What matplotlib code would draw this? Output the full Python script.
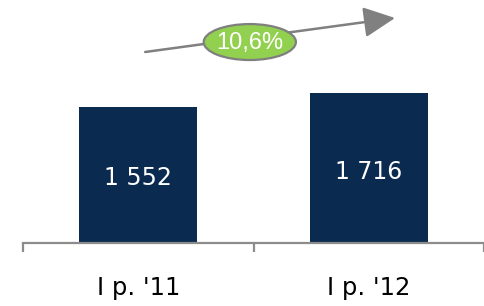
import matplotlib.pyplot as plt
from matplotlib.patches import Ellipse, FancyArrowPatch

categories = ["I p. '11", "I p. '12"]
values = [1552, 1716]
value_labels = ["1 552", "1 716"]

growth = (values[1] / values[0] - 1) * 100
growth_label = ("%.1f%%" % growth).replace(".", ",")

fig = plt.figure(figsize=(4.84, 3.06), dpi=100)
ax = fig.add_axes([23 / 484, 1 - 243 / 306, 461 / 484, 243 / 306])

x = list(range(len(categories)))
ax.bar(x, values, width=0.51, color="#0a2a50")
ax.set_xlim(-0.5, -0.5 + 461 / 239)
ax.set_ylim(0, 1552 * 243 / 136)

for xi, v, lab in zip(x, values, value_labels):
    ax.text(xi, v * 0.475, lab, ha="center", va="center",
            color="white", fontsize=17, family="DejaVu Sans")

for s in ["top", "right", "left"]:
    ax.spines[s].set_visible(False)
ax.spines["bottom"].set_color("#8c8c8c")
ax.spines["bottom"].set_linewidth(1.6)
ax.set_yticks([])
ax.set_xticks(x)
ax.set_xticklabels(categories, fontsize=17.5, family="DejaVu Sans")
ax.tick_params(axis="x", which="major", length=0, pad=24)
ax.set_xticks([-0.5, 0.5, 1.5], minor=True)
ax.tick_params(axis="x", which="minor", length=6.5, width=1.6, color="#8c8c8c")

# growth arrow
arrow = FancyArrowPatch((0.265, 0.786), (0.807, 0.926), transform=ax.transAxes,
                        arrowstyle="-|>,head_length=0.97,head_width=0.47",
                        mutation_scale=20, color="#808080", lw=1.8,
                        shrinkA=0, shrinkB=0, clip_on=False)
ax.add_patch(arrow)
ell = Ellipse((0.492, 0.827), 0.2, 0.148, transform=ax.transAxes,
              facecolor="#92d050", edgecolor="#7f7f7f", lw=1.6, clip_on=False, zorder=5)
ax.add_patch(ell)
ax.text(0.492, 0.825, growth_label, transform=ax.transAxes, ha="center", va="center",
        color="white", fontsize=17, family="Liberation Sans", zorder=6)

plt.savefig("out.png", dpi=100)
